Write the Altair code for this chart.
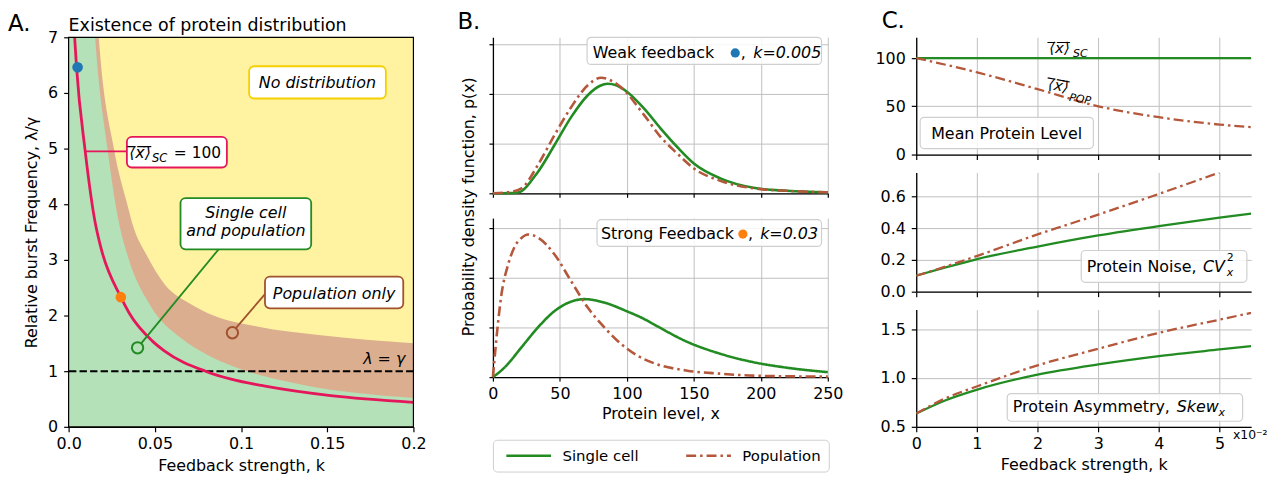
import altair as alt
import pandas as pd

FONT = "DejaVu Sans"
YELLOW = "#fff3a1"
BROWN_FILL = "#dcae90"
GREEN_FILL = "#b4e1b8"
RED = "#e5175b"
GREEN = "#228b22"
BROWN = "#b4573b"
BLUE = "#1f77b4"
ORANGE = "#ff7f0e"
GOLD = "#f5d000"
BOX_GRAY = "#cfcfcf"
GRID = "#c0c0c0"
DASHDOT = [10, 4, 2.5, 4]
OVX = "\u27e8\u0305x\u0305\u27e9\u0305"

# ---------------- Panel A data ----------------
a_xticks = [0, 0.05, 0.1, 0.15, 0.2]
a_yticks = [0, 1, 2, 3, 4, 5, 6, 7]
a_red_k = [0.0035, 0.0046, 0.0096, 0.0154, 0.0188, 0.0303, 0.0352, 0.0486, 0.0553, 0.0794, 0.0937, 0.114, 0.152, 0.200]
a_red_v = [7.0, 6.46, 4.96, 3.67, 3.21, 2.33, 2.04, 1.54, 1.37, 1.0, 0.86, 0.73, 0.56, 0.44]
a_green_k = [0.0, 0.0081, 0.0117, 0.0154, 0.0227, 0.029, 0.034, 0.048, 0.065, 0.080, 0.096, 0.132, 0.2]
a_green_v = [13.0, 13.0, 9.0, 7.0, 4.96, 3.7, 3.1, 2.15, 1.6, 1.3, 1.08, 0.78, 0.52]
a_brown_k = [0.0, 0.0094, 0.0136, 0.0175, 0.0265, 0.034, 0.0375, 0.045, 0.056, 0.070, 0.084, 0.11, 0.145, 0.2]
a_brown_v = [13.0, 13.0, 9.0, 7.0, 4.96, 4.0, 3.6, 3.1, 2.55, 2.22, 2.0, 1.8, 1.65, 1.5]
a_gamma_line = 1.0
a_weak_pt = [0.0052, 6.46]
a_strong_pt = [0.0303, 2.33]
a_sc_circle = [0.04, 1.42]
a_pop_circle = [0.095, 1.69]
# boxes: k, k2, v, v2
a_box_nodist = [0.1047, 0.184, 5.90, 6.48]
a_box_mean = [0.0338, 0.0918, 4.66, 5.21]
a_box_sc = [0.0649, 0.1407, 3.19, 4.11]
a_box_pop = [0.1139, 0.1941, 2.13, 2.70]
# connectors: k, v, k2, v2
a_con_mean = [0.0098, 4.95, 0.0338, 4.95]
a_con_sc = [0.087, 3.19, 0.0421, 1.50]
a_con_pop = [0.1139, 2.386, 0.0969, 1.77]

# ---------------- Panel B data ----------------
b_xticks = [0, 50, 100, 150, 200, 250]
b_yticks = [0, 1, 2, 3]
bt_sc_x = [0, 18, 33.6, 46, 58.4, 70.8, 80, 85.7, 92, 100.5, 112.9, 125.3, 137.6, 150, 169.8, 194.6, 219.4, 250]
bt_sc_y = [0, 0.01, 0.43, 0.97, 1.53, 1.97, 2.16, 2.2, 2.17, 2.03, 1.7, 1.3, 0.93, 0.6, 0.3, 0.11, 0.05, 0.02]
bt_pop_x = [0, 11, 21.3, 33.6, 46, 58.4, 70.8, 80.7, 95.6, 112.9, 125.3, 137.6, 150, 169.8, 194.6, 219.4, 250]
bt_pop_y = [0, 0.02, 0.1, 0.57, 1.17, 1.73, 2.17, 2.32, 2.13, 1.57, 1.13, 0.8, 0.5, 0.25, 0.1, 0.05, 0.02]
bb_sc_x = [0, 8.9, 21.3, 33.6, 46, 58.4, 68.3, 83.2, 100.5, 112.9, 120.3, 145.1, 169.8, 194.6, 219.4, 250]
bb_sc_y = [0, 0.2, 0.6, 1.0, 1.33, 1.52, 1.57, 1.50, 1.32, 1.17, 1.06, 0.71, 0.47, 0.3, 0.19, 0.1]
bb_pop_x = [0, 2, 6.4, 11.4, 16.3, 21.3, 26.2, 33.6, 46, 58.4, 70.8, 83.2, 95.6, 108, 120.3, 145.1, 169.8, 194.6, 250]
bb_pop_y = [0, 0.6, 1.67, 2.27, 2.63, 2.8, 2.87, 2.81, 2.47, 1.93, 1.4, 1.0, 0.67, 0.43, 0.28, 0.13, 0.07, 0.03, 0.01]
series_names = ["Single cell", "Population"]
b_box_top = [70.3, 245.3, 2.59, 3.134]
b_box_bot = [77.7, 245.3, 2.63, 3.17]

# ---------------- Panel C data ----------------
c_xticks = [0, 1, 2, 3, 4, 5]
c_mean_sc_x = [0, 5.52]
c_mean_sc_y = [100, 100]
c_mean_pop_x = [0, 1.02, 2.0, 3.0, 4.0, 5.0, 5.52]
c_mean_pop_y = [100, 84.9, 67.8, 50, 38.7, 31.1, 28.4]
c_cv_sc_x = [0, 0.5, 1.02, 2.0, 3.0, 4.0, 5.0, 5.52]
c_cv_sc_y = [0.101, 0.154, 0.207, 0.284, 0.354, 0.413, 0.466, 0.491]
c_cv_pop_x = [0, 0.5, 1.02, 2.0, 3.0, 4.0, 5.0]
c_cv_pop_y = [0.1, 0.16, 0.227, 0.36, 0.485, 0.615, 0.75]
c_sk_sc_x = [0, 0.475, 1.02, 2.0, 3.0, 4.0, 5.0, 5.52]
c_sk_sc_y = [0.636, 0.77, 0.884, 1.034, 1.139, 1.224, 1.292, 1.326]
c_sk_pop_x = [0, 0.475, 1.02, 2.0, 3.0, 4.0, 5.0, 5.52]
c_sk_pop_y = [0.636, 0.79, 0.918, 1.129, 1.299, 1.462, 1.597, 1.666]
c_box_mean = [0.065, 2.92, 6.2, 38.6]
c_box_cv = [2.72, 5.45, 0.059, 0.259]
c_box_sk = [1.5, 5.38, 0.557, 0.84]


def df(**cols):
    return pd.DataFrame(cols)


# ======================= Panel A =======================
XA = alt.X("k:Q", scale=alt.Scale(domain=[0, 0.2], nice=False, zero=False),
           axis=alt.Axis(values=a_xticks,
                         labelExpr="datum.value == 0 ? '0.0' : format(datum.value, '.2~f')",
                         title="Feedback strength, k", grid=False, tickSize=5,
                         labelPadding=4, titlePadding=6))
YA = alt.Y("v:Q", scale=alt.Scale(domain=[0, 7], nice=False, zero=False),
           axis=alt.Axis(values=a_yticks, format="d", title="Relative burst Frequency, λ/γ",
                         grid=False, tickSize=5, labelPadding=6, titlePadding=8))


def a_rect(b, **mk):
    return alt.Chart(df(k=[b[0]], k2=[b[1]], v=[b[2]], v2=[b[3]])).mark_rect(**mk).encode(
        x=XA, x2=alt.X2("k2"), y=YA, y2=alt.Y2("v2"))


def a_con(c, color):
    return alt.Chart(df(k=[c[0]], v=[c[1]], k2=[c[2]], v2=[c[3]])).mark_rule(
        color=color, strokeWidth=1.8).encode(x=XA, y=YA, x2=alt.X2("k2"), y2=alt.Y2("v2"))


def a_text(k, v, t, **mk):
    return alt.Chart(df(k=[k], v=[v], t=[t])).mark_text(font=FONT, color="black", **mk).encode(
        x=XA, y=YA, text="t:N")


A_layers = [
    a_rect([0, 0.2, 0, 7], color=YELLOW),
    alt.Chart(df(k=a_brown_k, v=a_brown_v)).mark_area(color=BROWN_FILL, interpolate="monotone", clip=True).encode(x=XA, y=YA),
    alt.Chart(df(k=a_green_k, v=a_green_v)).mark_area(color=GREEN_FILL, interpolate="monotone", clip=True).encode(x=XA, y=YA),
    alt.Chart(df(v=[a_gamma_line])).mark_rule(color="black", strokeWidth=2, strokeDash=[7.4, 3.2]).encode(y=YA),
    alt.Chart(df(k=a_red_k, v=a_red_v)).mark_line(color=RED, strokeWidth=2.8, interpolate="monotone", clip=True).encode(x=XA, y=YA),
    a_con(a_con_mean, RED),
    a_con(a_con_sc, GREEN),
    a_con(a_con_pop, "#a0522d"),
    alt.Chart(df(k=[a_weak_pt[0]], v=[a_weak_pt[1]])).mark_circle(color=BLUE, size=115, opacity=1).encode(x=XA, y=YA),
    alt.Chart(df(k=[a_strong_pt[0]], v=[a_strong_pt[1]])).mark_circle(color=ORANGE, size=115, opacity=1).encode(x=XA, y=YA),
    alt.Chart(df(k=[a_sc_circle[0]], v=[a_sc_circle[1]])).mark_point(shape="circle", filled=False, color=GREEN, size=130, strokeWidth=2, opacity=1).encode(x=XA, y=YA),
    alt.Chart(df(k=[a_pop_circle[0]], v=[a_pop_circle[1]])).mark_point(shape="circle", filled=False, color="#a0522d", size=130, strokeWidth=2, opacity=1).encode(x=XA, y=YA),
    a_rect(a_box_nodist, fill="white", stroke=GOLD, strokeWidth=1.8, cornerRadius=5),
    a_rect(a_box_mean, fill="white", stroke=RED, strokeWidth=1.8, cornerRadius=5),
    a_rect(a_box_sc, fill="white", stroke=GREEN, strokeWidth=1.8, cornerRadius=5),
    a_rect(a_box_pop, fill="white", stroke="#a0522d", strokeWidth=1.8, cornerRadius=5),
    a_text(0.1443, 6.08, "No distribution", fontSize=16, fontStyle="italic", align="center", baseline="alphabetic"),
    a_text(0.1028, 3.755, "Single cell", fontSize=16, fontStyle="italic", align="center", baseline="alphabetic"),
    a_text(0.1028, 3.43, "and population", fontSize=16, fontStyle="italic", align="center", baseline="alphabetic"),
    a_text(0.154, 2.296, "Population only", fontSize=16, fontStyle="italic", align="center", baseline="alphabetic"),
    a_text(0.0351, 4.83, OVX, fontSize=16, fontStyle="italic", align="left", baseline="alphabetic"),
    a_text(0.0351, 4.83, "SC", fontSize=11.5, fontStyle="italic", align="left", baseline="alphabetic", dx=23, dy=4),
    a_text(0.0351, 4.83, "= 100", fontSize=15.5, align="left", baseline="alphabetic", dx=45),
    a_text(0.1953, 1.136, "λ = γ", fontSize=16, fontStyle="italic", align="right", baseline="alphabetic"),
    a_text(-0.0351, 7.118, "A.", fontSize=23, align="left", baseline="alphabetic"),
    a_text(0.0, 7.118, "Existence of protein distribution", fontSize=17.5, align="left", baseline="alphabetic"),
    a_rect([0, 0.2, 0, 7], filled=False, stroke="black", strokeWidth=1.2),
]
panelA = alt.layer(*A_layers).properties(width=347, height=392)

# ======================= Panel B =======================
B_XSCALE = alt.Scale(domain=[0, 250], nice=False, zero=False)
XB_top = alt.X("x:Q", scale=B_XSCALE,
               axis=alt.Axis(values=b_xticks, labels=False, title=None, tickSize=4, grid=True))
YB_top = alt.Y("y:Q", scale=alt.Scale(domain=[0, 3.134], nice=False, zero=False),
               axis=alt.Axis(values=b_yticks, labels=False, tickSize=4, grid=True,
                             title="Probability density function, p(x)", titleX=-17, titleY=170))
XB_bot = alt.X("x:Q", scale=B_XSCALE,
               axis=alt.Axis(values=b_xticks, format="d", title="Protein level, x", tickSize=4,
                             grid=True, labelPadding=4, titlePadding=5))
YB_bot = alt.Y("y:Q", scale=alt.Scale(domain=[0, 3.2], nice=False, zero=False),
               axis=alt.Axis(values=b_yticks, labels=False, tickSize=4, grid=True, title=None))


def b_rect(b, X, Y, **mk):
    return alt.Chart(df(x=[b[0]], x2=[b[1]], y=[b[2]], y2=[b[3]])).mark_rect(**mk).encode(
        x=X, x2=alt.X2("x2"), y=Y, y2=alt.Y2("y2"))


def b_text(x, y, t, X, Y, **mk):
    return alt.Chart(df(x=[x], y=[y], t=[t])).mark_text(font=FONT, color="black", **mk).encode(
        x=X, y=Y, text="t:N")


BOXSTYLE = dict(fill="white", fillOpacity=0.85, stroke=BOX_GRAY, strokeWidth=1.2, cornerRadius=4)

B_top = alt.layer(
    alt.Chart(df(x=bt_sc_x, y=bt_sc_y)).mark_line(color=GREEN, strokeWidth=2.6, interpolate="monotone").encode(x=XB_top, y=YB_top),
    alt.Chart(df(x=bt_pop_x, y=bt_pop_y)).mark_line(color=BROWN, strokeWidth=2.6, strokeDash=DASHDOT, interpolate="monotone").encode(x=XB_top, y=YB_top),
    b_rect(b_box_top, XB_top, YB_top, **BOXSTYLE),
    b_text(74.5, 2.714, "Weak feedback", XB_top, YB_top, fontSize=16, align="left", baseline="alphabetic"),
    alt.Chart(df(x=[180.9], y=[2.82])).mark_circle(color=BLUE, size=85, opacity=1).encode(x=XB_top, y=YB_top),
    b_text(185.0, 2.714, ",", XB_top, YB_top, fontSize=16, align="left", baseline="alphabetic"),
    b_text(194.4, 2.714, "k=0.005", XB_top, YB_top, fontSize=16, fontStyle="italic", align="left", baseline="alphabetic"),
    b_text(-26.5, 3.30, "B.", XB_top, YB_top, fontSize=23, align="left", baseline="alphabetic"),
).properties(width=337, height=157)

b_lines = pd.concat([
    df(x=bb_sc_x, y=bb_sc_y, series=[series_names[0]] * len(bb_sc_x)),
    df(x=bb_pop_x, y=bb_pop_y, series=[series_names[1]] * len(bb_pop_x)),
])
LEG = dict(title=None, orient="none", legendX=0, legendY=223, direction="horizontal",
           symbolType="stroke", symbolSize=2025, symbolStrokeWidth=2.5, labelFontSize=15,
           labelFont=FONT, labelColor="black", labelOffset=10, columnPadding=42, padding=8,
           symbolOffset=4, strokeColor=BOX_GRAY, cornerRadius=4, fillColor="white",
           clipHeight=16)

B_bot = alt.layer(
    alt.Chart(b_lines).mark_line(strokeWidth=2.6, interpolate="monotone").encode(
        x=XB_bot, y=YB_bot,
        color=alt.Color("series:N", scale=alt.Scale(domain=series_names, range=[GREEN, BROWN]),
                        legend=alt.Legend(**LEG)),
        strokeDash=alt.StrokeDash("series:N", scale=alt.Scale(domain=series_names, range=[[1, 0], DASHDOT]),
                                  legend=alt.Legend(**LEG)),
        order=alt.Order("series:N", sort="descending"),
    ),
    b_rect(b_box_bot, XB_bot, YB_bot, **BOXSTYLE),
    b_text(80.7, 2.788, "Strong Feedback", XB_bot, YB_bot, fontSize=16, align="left", baseline="alphabetic"),
    alt.Chart(df(x=[186.6], y=[2.88])).mark_circle(color=ORANGE, size=85, opacity=1).encode(x=XB_bot, y=YB_bot),
    b_text(190.5, 2.788, ",", XB_bot, YB_bot, fontSize=16, align="left", baseline="alphabetic"),
    b_text(199.5, 2.788, "k=0.03", XB_bot, YB_bot, fontSize=16, fontStyle="italic", align="left", baseline="alphabetic"),
).properties(width=337, height=160)

panelB = alt.vconcat(B_top, B_bot, spacing=25, bounds="flush").resolve_scale(
    color="independent", strokeDash="independent")

# ======================= Panel C =======================
C_XSCALE = alt.Scale(domain=[0, 5.52], nice=False, zero=False)
XC = alt.X("x:Q", scale=C_XSCALE, axis=alt.Axis(values=c_xticks, labels=False, title=None, tickSize=5, grid=True))
XC_bot = alt.X("x:Q", scale=C_XSCALE, axis=alt.Axis(values=c_xticks, format="d", title="Feedback strength, k",
                                                    tickSize=5, grid=True, labelPadding=4, titlePadding=5))
YC1 = alt.Y("y:Q", scale=alt.Scale(domain=[0, 121.5], nice=False, zero=False),
            axis=alt.Axis(values=[0, 50, 100], format="d", title=None, tickSize=5, grid=True, labelPadding=6))
YC2 = alt.Y("y:Q", scale=alt.Scale(domain=[0, 0.75], nice=False, zero=False),
            axis=alt.Axis(values=[0, 0.2, 0.4, 0.6], format=".1f", title=None, tickSize=5, grid=True, labelPadding=6))
YC3 = alt.Y("y:Q", scale=alt.Scale(domain=[0.5, 1.70], nice=False, zero=False),
            axis=alt.Axis(values=[0.5, 1.0, 1.5], format=".1f", title=None, tickSize=5, grid=True, labelPadding=6))


def c_line(xs, ys, X, Y, color, dash=False):
    mk = dict(color=color, strokeWidth=2.3, interpolate="monotone", clip=True)
    if dash:
        mk["strokeDash"] = DASHDOT
    return alt.Chart(df(x=xs, y=ys)).mark_line(**mk).encode(x=X, y=Y)


C_top = alt.layer(
    c_line(c_mean_sc_x, c_mean_sc_y, XC, YC1, GREEN),
    c_line(c_mean_pop_x, c_mean_pop_y, XC, YC1, BROWN, True),
    b_rect(c_box_mean, XC, YC1, **BOXSTYLE),
    b_text(1.49, 16.4, "Mean Protein Level", XC, YC1, fontSize=16, align="center", baseline="alphabetic"),
    b_text(2.193, 105.1, OVX, XC, YC1, fontSize=15, fontStyle="italic", align="left", baseline="alphabetic"),
    b_text(2.193, 105.1, "SC", XC, YC1, fontSize=11, fontStyle="italic", align="left", baseline="alphabetic", dx=24, dy=4),
    b_text(2.165, 68.1, OVX, XC, YC1, fontSize=15, fontStyle="italic", align="left", baseline="alphabetic", angle=10),
    b_text(2.165, 68.1, "POP", XC, YC1, fontSize=11, fontStyle="italic", align="left", baseline="alphabetic", angle=10, dx=23, dy=8),
    b_text(-0.57, 131.1, "C.", XC, YC1, fontSize=23, align="left", baseline="alphabetic"),
).properties(width=337, height=118)

C_mid = alt.layer(
    c_line(c_cv_sc_x, c_cv_sc_y, XC, YC2, GREEN),
    c_line(c_cv_pop_x, c_cv_pop_y, XC, YC2, BROWN, True),
    b_rect(c_box_cv, XC, YC2, **BOXSTYLE),
    b_text(2.81, 0.1226, "Protein Noise,", XC, YC2, fontSize=16, align="left", baseline="alphabetic"),
    b_text(2.81, 0.1226, "CV", XC, YC2, fontSize=16, fontStyle="italic", align="left", baseline="alphabetic", dx=117),
    b_text(2.81, 0.1226, "2", XC, YC2, fontSize=11, align="left", baseline="alphabetic", dx=141, dy=-11),
    b_text(2.81, 0.1226, "x", XC, YC2, fontSize=11, fontStyle="italic", align="left", baseline="alphabetic", dx=141, dy=4),
).properties(width=337, height=120)

C_bot = alt.layer(
    c_line(c_sk_sc_x, c_sk_sc_y, XC_bot, YC3, GREEN),
    c_line(c_sk_pop_x, c_sk_pop_y, XC_bot, YC3, BROWN, True),
    b_rect(c_box_sk, XC_bot, YC3, **BOXSTYLE),
    b_text(1.592, 0.653, "Protein Asymmetry,", XC_bot, YC3, fontSize=16, align="left", baseline="alphabetic"),
    b_text(1.592, 0.653, "Skew", XC_bot, YC3, fontSize=16, fontStyle="italic", align="left", baseline="alphabetic", dx=165),
    b_text(1.592, 0.653, "x", XC_bot, YC3, fontSize=11, fontStyle="italic", align="left", baseline="alphabetic", dx=207, dy=4),
    b_text(5.22, 0.411, "x10\u207b\u00b2", XC_bot, YC3, fontSize=12.5, align="left", baseline="middle"),
).properties(width=337, height=118)

panelC = alt.vconcat(C_top, C_mid, C_bot, spacing=18, bounds="flush")

chart = alt.hconcat(panelA, panelB, panelC, spacing=31).resolve_scale(
    color="independent", strokeDash="independent"
).properties(
    padding={"left": 0, "top": 0, "right": 0, "bottom": 0}
).configure(font=FONT).configure_view(strokeWidth=0).configure_axis(
    labelFont=FONT, titleFont=FONT, labelFontSize=16, titleFontSize=16, titleFontWeight="normal",
    labelColor="black", titleColor="black", domainColor="black", tickColor="black",
    domainWidth=1.3, tickWidth=1.2, gridColor=GRID, gridWidth=1, labelFlush=False
)

chart.save("out.html", embed_options={"renderer": "svg", "actions": False})
